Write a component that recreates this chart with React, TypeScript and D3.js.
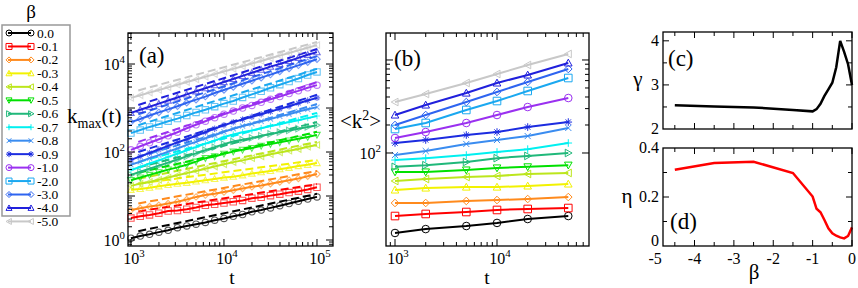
import React from "react";
import * as d3 from "d3";

const BETA_LABELS = ["0.0", "-0.1", "-0.2", "-0.3", "-0.4", "-0.5", "-0.6", "-0.7", "-0.8", "-0.9", "-1.0", "-2.0", "-3.0", "-4.0", "-5.0"];
const COLORS = ["#000000", "#ff0000", "#ff8a1c", "#f2f200", "#bce61c", "#00e000", "#20b87a", "#00f0f0", "#3a8cf0", "#1c2ce0", "#9a30f0", "#1aa8f0", "#2e64f0", "#2020dc", "#c8c8c8"];
const SHAPES = ["circle", "square", "diamond", "triUp", "triLeft", "triDown", "triRight", "plus", "cross", "star", "circle", "square", "diamond", "triUp", "triLeft"];

// panel (a): k_max(t)
const T_A = [1000, 1259, 1585, 1995, 2512, 3162, 3981, 5012, 6310, 7943, 10000, 12589, 15849, 19953, 25119, 31623, 39811, 50119, 63096, 79433, 100000];
const KMAX_00 = [1.10, 1.23, 1.35, 1.51, 1.66, 1.91, 2.09, 2.29, 2.51, 2.82, 3.09, 3.47, 3.80, 4.37, 4.79, 5.37, 6.03, 6.76, 7.59, 8.51, 9.55];
const KMAX_01 = [3.16, 3.47, 3.72, 4.07, 4.57, 4.68, 5.01, 5.50, 6.17, 6.46, 6.92, 7.41, 7.94, 8.91, 9.33, 10.2, 11.0, 12.0, 12.9, 14.1, 15.8];
const KMAX_02 = [4.79, 5.25, 5.75, 6.17, 6.76, 7.41, 8.32, 9.55, 10.5, 11.2, 12.3, 13.5, 14.8, 16.2, 17.4, 19.1, 20.9, 22.9, 25.1, 28.2, 31.6];
const KMAX_03 = [13.8, 14.5, 15.5, 16.6, 17.8, 19.1, 20.0, 21.4, 22.9, 24.5, 26.3, 27.5, 29.5, 32.4, 34.7, 37.2, 40.7, 43.7, 47.9, 51.3, 56.2];
const KMAX_04 = [17.0, 19.1, 20.9, 23.4, 26.3, 29.5, 33.1, 37.2, 41.7, 46.8, 52.5, 58.9, 64.6, 72.4, 79.4, 89.1, 97.7, 107, 117, 132, 145];
const KMAX_05 = [22.9, 26.3, 30.2, 34.7, 39.8, 44.7, 51.3, 60.3, 72.4, 79.4, 91.2, 102, 112, 123, 138, 151, 166, 182, 200, 219, 245];
const KMAX_06 = [30.2, 35.5, 41.7, 49.0, 57.5, 67.6, 79.4, 93.3, 110, 129, 151, 174, 191, 209, 234, 257, 282, 309, 339, 372, 407];
const KMAX_07 = [38.9, 45.7, 55.0, 64.6, 77.6, 91.2, 110, 129, 155, 182, 219, 251, 282, 309, 347, 389, 427, 479, 525, 589, 661];
const KMAX_08 = [51.3, 60.3, 72.4, 85.1, 102, 120, 145, 170, 204, 240, 288, 339, 389, 437, 501, 562, 646, 724, 832, 933, 1047];
const KMAX_09 = [66.1, 79.4, 95.5, 115, 138, 166, 195, 234, 282, 339, 407, 479, 550, 631, 724, 832, 955, 1096, 1288, 1479, 1698];
const KMAX_10 = [112, 135, 162, 195, 234, 282, 347, 417, 501, 603, 724, 851, 1000, 1148, 1349, 1585, 1820, 2138, 2455, 2884, 3311];
const KMAX_20 = [269, 316, 372, 427, 501, 575, 676, 794, 912, 1072, 1259, 1445, 1738, 2042, 2399, 2884, 3388, 3981, 4677, 5623, 6607];
const KMAX_30 = [479, 562, 676, 794, 933, 1096, 1318, 1549, 1820, 2188, 2570, 3020, 3548, 4169, 4898, 5754, 6761, 7943, 9333, 10965, 12882];
const KMAX_40 = [776, 912, 1072, 1259, 1479, 1738, 2042, 2399, 2818, 3311, 3890, 4571, 5370, 6310, 7413, 8710, 10000, 11749, 13804, 16218, 18621];
const KMAX_50 = [1698, 1950, 2239, 2570, 2951, 3388, 3890, 4467, 5129, 5888, 6761, 7762, 8913, 10233, 11749, 13490, 15488, 17783, 20417, 23442, 26915];
const SERIES_A = [KMAX_00, KMAX_01, KMAX_02, KMAX_03, KMAX_04, KMAX_05, KMAX_06, KMAX_07, KMAX_08, KMAX_09, KMAX_10, KMAX_20, KMAX_30, KMAX_40, KMAX_50];

// dashed power-law fits
const DASH_T = [1200, 100000];
const DASH_START = [1.585, 4.47, 6.76, 19.1, 24.5, 33.9, 44.7, 58.9, 77.6, 100, 170, 407, 724, 1175, 2512];
const DASH_END = [11.2, 18.6, 37.2, 66.1, 170, 288, 479, 776, 1230, 1995, 3890, 7762, 15136, 21878, 31623];

// panel (b): <k^2>
const T_B = [1000, 2000, 5000, 10000, 20000, 50000];
const K2_00 = [13.8, 15.2, 16.4, 17.7, 19.5, 21.0];
const K2_01 = [21.0, 22.1, 23.2, 24.4, 25.0, 25.6];
const K2_02 = [29.0, 29.0, 30.5, 31.2, 32.0, 33.6];
const K2_03 = [40.0, 42.0, 43.0, 43.0, 44.2, 46.4];
const K2_04 = [50.0, 52.5, 55.2, 56.6, 59.5, 61.0];
const K2_05 = [62.5, 62.5, 65.6, 69.0, 71.0, 74.0];
const K2_06 = [71.0, 74.0, 80.0, 88.0, 93.0, 100];
const K2_07 = [84.0, 88.0, 95.0, 102.5, 110, 128];
const K2_08 = [95.0, 105, 125, 138, 152, 186];
const K2_09 = [128, 138, 156, 168, 190, 215];
const K2_10 = [145, 168, 210, 256, 312, 390];
const K2_20 = [181, 210, 290, 362, 464, 640];
const K2_30 = [200, 256, 353, 453, 580, 800];
const K2_40 = [256, 328, 441, 566, 690, 929];
const K2_50 = [353, 431, 566, 707, 883, 1161];
const SERIES_B = [K2_00, K2_01, K2_02, K2_03, K2_04, K2_05, K2_06, K2_07, K2_08, K2_09, K2_10, K2_20, K2_30, K2_40, K2_50];

// panels (c), (d)
const BETA_CD = [-4.5, -3.5, -2.5, -1.5, -1.0, -0.9, -0.8, -0.7, -0.6, -0.5, -0.4, -0.3, -0.2, -0.1, 0.0];
const GAMMA = [2.54, 2.51, 2.49, 2.43, 2.40, 2.45, 2.57, 2.75, 2.90, 3.05, 3.40, 4.00, 3.75, 3.47, 3.00];
const ETA = [0.311, 0.339, 0.344, 0.298, 0.202, 0.152, 0.138, 0.106, 0.072, 0.052, 0.042, 0.035, 0.031, 0.041, 0.076];
const BETA_TICKS = [-5, -4, -3, -2, -1, 0];

const FONT = "Liberation Serif, DejaVu Serif, Times New Roman, serif";
const TS = { fontFamily: FONT } as React.CSSProperties;

function markerPath(shape: string, r: number): string {
  switch (shape) {
    case "square": return `M${-r},${-r}H${r}V${r}H${-r}Z`;
    case "diamond": return `M0,${-r}L${r},0L0,${r}L${-r},0Z`;
    case "triUp": return `M0,${-r}L${r},${r * 0.8}L${-r},${r * 0.8}Z`;
    case "triDown": return `M0,${r}L${r},${-r * 0.8}L${-r},${-r * 0.8}Z`;
    case "triLeft": return `M${-r},0L${r * 0.8},${-r}L${r * 0.8},${r}Z`;
    case "triRight": return `M${r},0L${-r * 0.8},${-r}L${-r * 0.8},${r}Z`;
    case "plus": return `M${-r},0H${r}M0,${-r}V${r}`;
    case "cross": { const q = r * 0.8; return `M${-q},${-q}L${q},${q}M${-q},${q}L${q},${-q}`; }
    case "star": { const q = r * 0.7; return `M${-r},0H${r}M0,${-r}V${r}M${-q},${-q}L${q},${q}M${-q},${q}L${q},${-q}`; }
    default: return `M${r},0A${r},${r} 0 1,1 ${-r},0A${r},${r} 0 1,1 ${r},0Z`;
  }
}

function logTicks(a: number, b: number) {
  const out: { v: number; major: boolean }[] = [];
  for (let e = Math.floor(Math.log10(a)); e <= Math.ceil(Math.log10(b)); e++) {
    for (let m = 1; m < 10; m++) {
      const v = m * Math.pow(10, e);
      if (v >= a && v <= b) out.push({ v, major: m === 1 });
    }
  }
  return out;
}

function Pow10({ x, y, e, anchor, size = 16 }: { x: number; y: number; e: number; anchor: string; size?: number }) {
  return (
    <text x={x} y={y} textAnchor={anchor as any} style={TS} fontSize={size}>
      10<tspan dy={-7} fontSize={size * 0.68}>{e}</tspan>
    </text>
  );
}

export default function App() {
  const xA = d3.scaleLog().domain([930, 148600]).range([128, 333]);
  const yA = d3.scaleLog().domain([0.731, 50700]).range([246, 33]);
  const lineA = d3.line<number>().x((_, i) => xA(T_A[i])).y((d) => yA(d));
  const dashLine = d3.line<[number, number]>().x((d) => xA(d[0])).y((d) => yA(d[1]));
  const [aL, aR] = xA.range();
  const [aB, aT] = yA.range();

  const xB = d3.scaleLog().domain([816, 79800]).range([386, 589]);
  const yB = d3.scaleLog().domain([10, 1950]).range([246, 33]);
  const lineB = d3.line<number>().x((_, i) => xB(T_B[i])).y((d) => yB(d));
  const [bL, bR] = xB.range();
  const [bB, bT] = yB.range();

  const xC = d3.scaleLinear().domain([-4.8, 0]).range([663, 852]);
  const yC = d3.scaleLinear().domain([2, 4.2]).range([129, 32]);
  const yD = d3.scaleLinear().domain([0, 0.4]).range([246, 148]);
  const lineC = d3.line<number>().x((_, i) => xC(BETA_CD[i])).y((d) => yC(d));
  const lineD = d3.line<number>().x((_, i) => xC(BETA_CD[i])).y((d) => yD(d));
  const [cL, cR] = xC.range();

  const xTicksCD = d3.range(-4.5, 0.01, 0.5);
  const tickStroke = { stroke: "#000", strokeWidth: 1 };

  const xTicksA = logTicks(930, 148600);
  const yTicksA = logTicks(0.731, 50700);
  const xTicksB = logTicks(816, 79800);
  const yTicksB = logTicks(100, 1950);

  return (
    <svg width={858} height={288} style={{ position: "absolute", left: 0, top: 0, background: "#fff", fontFamily: FONT }}>
      {/* legend */}
      <text x={31} y={18} textAnchor="middle" style={TS} fontSize={19}>β</text>
      <rect x={2} y={25} width={68} height={191} fill="#fff" stroke="#999" strokeWidth={1.5} />
      {BETA_LABELS.map((lab, i) => {
        const y = 33 + i * 13.46;
        return (
          <g key={lab}>
            <line x1={8} x2={31} y1={y} y2={y} stroke={COLORS[i]} strokeWidth={2} />
            <path d={markerPath(SHAPES[i], 3)} transform={`translate(9,${y})`} fill="none" stroke={COLORS[i]} strokeWidth={1} />
            <path d={markerPath(SHAPES[i], 3)} transform={`translate(31,${y})`} fill="none" stroke={COLORS[i]} strokeWidth={1} />
            <text x={37} y={y + 4.5} style={TS} fontSize={13.5}>{lab}</text>
          </g>
        );
      })}

      {/* panel (a) */}
      <g>
        {SERIES_A.map((s, i) => (
          <g key={i}>
            {s.map((v, j) => (
              <path key={j} d={markerPath(SHAPES[i], 3.2)} transform={`translate(${xA(T_A[j])},${yA(v)})`} fill="none" stroke={COLORS[i]} strokeWidth={1.1} opacity={0.65} />
            ))}
            <path d={lineA(s) || ""} fill="none" stroke={COLORS[i]} strokeWidth={2} />
            <path d={dashLine([[DASH_T[0], DASH_START[i]], [DASH_T[1], DASH_END[i]]]) || ""} fill="none" stroke={COLORS[i]} strokeWidth={2} strokeDasharray="8,4" />
          </g>
        ))}
        <rect x={aL} y={aT} width={aR - aL} height={aB - aT} fill="none" stroke="#000" strokeWidth={1.3} />
        {xTicksA.map((t, i) => {
          const x = xA(t.v); const len = t.major ? 7 : 4;
          return (
            <g key={i}>
              <line x1={x} x2={x} y1={aB} y2={aB - len} {...tickStroke} />
              <line x1={x} x2={x} y1={aT} y2={aT + len} {...tickStroke} />
            </g>
          );
        })}
        {yTicksA.map((t, i) => {
          const y = yA(t.v); const len = t.major ? 7 : 4;
          return (
            <g key={i}>
              <line x1={aL} x2={aL + len} y1={y} y2={y} {...tickStroke} />
              <line x1={aR} x2={aR - len} y1={y} y2={y} {...tickStroke} />
            </g>
          );
        })}
        {[3, 4, 5].map((e) => <Pow10 key={e} x={xA(Math.pow(10, e)) + 3} y={264} e={e} anchor="middle" />)}
        {[0, 2, 4].map((e) => <Pow10 key={e} x={125} y={yA(Math.pow(10, e)) + 6} e={e} anchor="end" />)}
        <text x={139} y={63} style={TS} fontSize={23}>(a)</text>
        <text x={67} y={123} style={TS} fontSize={21}>k<tspan dy={5} fontSize={14}>max</tspan><tspan dy={-5}>(t)</tspan></text>
        <text x={232} y={284} textAnchor="middle" style={TS} fontSize={19.5}>t</text>
      </g>

      {/* panel (b) */}
      <g>
        {SERIES_B.map((s, i) => (
          <g key={i}>
            <path d={lineB(s) || ""} fill="none" stroke={COLORS[i]} strokeWidth={2} />
            {s.map((v, j) => (
              <path key={j} d={markerPath(SHAPES[i], 3.8)} transform={`translate(${xB(T_B[j])},${yB(v)})`} fill="none" stroke={COLORS[i]} strokeWidth={1} />
            ))}
          </g>
        ))}
        <rect x={bL} y={bT} width={bR - bL} height={bB - bT} fill="none" stroke="#000" strokeWidth={1.3} />
        {xTicksB.map((t, i) => {
          const x = xB(t.v); const len = t.major ? 7 : 4;
          return (
            <g key={i}>
              <line x1={x} x2={x} y1={bB} y2={bB - len} {...tickStroke} />
              <line x1={x} x2={x} y1={bT} y2={bT + len} {...tickStroke} />
            </g>
          );
        })}
        {yTicksB.map((t, i) => {
          const y = yB(t.v); const len = t.major ? 7 : 4;
          return (
            <g key={i}>
              <line x1={bL} x2={bL + len} y1={y} y2={y} {...tickStroke} />
              <line x1={bR} x2={bR - len} y1={y} y2={y} {...tickStroke} />
            </g>
          );
        })}
        {[3, 4].map((e) => <Pow10 key={e} x={xB(Math.pow(10, e)) + 3} y={264} e={e} anchor="middle" />)}
        <Pow10 x={381} y={yB(100) + 6} e={2} anchor="end" />
        <text x={394} y={66} style={TS} fontSize={23}>(b)</text>
        <text x={340} y={128} style={TS} fontSize={21}>&lt;k<tspan dy={-8} fontSize={14}>2</tspan><tspan dy={8}>&gt;</tspan></text>
        <text x={487} y={284} textAnchor="middle" style={TS} fontSize={19.5}>t</text>
      </g>

      {/* panel (c) */}
      <g>
        <path d={lineC(GAMMA) || ""} fill="none" stroke="#000" strokeWidth={2.5} />
        <rect x={cL} y={yC(4.2)} width={cR - cL} height={yC(2) - yC(4.2)} fill="none" stroke="#000" strokeWidth={1.3} />
        {xTicksCD.map((v, i) => {
          const x = xC(v); const len = Number.isInteger(v) ? 6 : 4;
          return (
            <g key={i}>
              <line x1={x} x2={x} y1={yC(2)} y2={yC(2) - len} {...tickStroke} />
              <line x1={x} x2={x} y1={yC(4.2)} y2={yC(4.2) + len} {...tickStroke} />
            </g>
          );
        })}
        {[2.5, 3, 3.5, 4].map((v, i) => {
          const y = yC(v); const len = Number.isInteger(v) ? 6 : 4;
          return (
            <g key={i}>
              <line x1={cL} x2={cL + len} y1={y} y2={y} {...tickStroke} />
              <line x1={cR} x2={cR - len} y1={y} y2={y} {...tickStroke} />
            </g>
          );
        })}
        {[2, 3, 4].map((v) => (
          <text key={v} x={659} y={yC(v) + 5} textAnchor="end" style={TS} fontSize={16}>{v}</text>
        ))}
        <text x={668} y={66} style={TS} fontSize={23}>(c)</text>
        <text x={638} y={86} textAnchor="middle" style={TS} fontSize={21}>γ</text>
      </g>

      {/* panel (d) */}
      <g>
        <path d={lineD(ETA) || ""} fill="none" stroke="#ff0000" strokeWidth={2.5} />
        <rect x={cL} y={yD(0.4)} width={cR - cL} height={yD(0) - yD(0.4)} fill="none" stroke="#000" strokeWidth={1.3} />
        {xTicksCD.map((v, i) => {
          const x = xC(v); const len = Number.isInteger(v) ? 6 : 4;
          return (
            <g key={i}>
              <line x1={x} x2={x} y1={yD(0)} y2={yD(0) - len} {...tickStroke} />
              <line x1={x} x2={x} y1={yD(0.4)} y2={yD(0.4) + len} {...tickStroke} />
            </g>
          );
        })}
        {[0.1, 0.2, 0.3].map((v, i) => {
          const y = yD(v); const len = Math.abs(v - 0.2) < 1e-9 ? 6 : 4;
          return (
            <g key={i}>
              <line x1={cL} x2={cL + len} y1={y} y2={y} {...tickStroke} />
              <line x1={cR} x2={cR - len} y1={y} y2={y} {...tickStroke} />
            </g>
          );
        })}
        {[0, 0.2, 0.4].map((v) => (
          <text key={v} x={659} y={yD(v) + (v === 0 ? 0 : 5)} textAnchor="end" style={TS} fontSize={16}>{v === 0 ? "0" : String(v)}</text>
        ))}
        {BETA_TICKS.map((v) => (
          <text key={v} x={xC(v)} y={264} textAnchor="middle" style={TS} fontSize={16}>{v}</text>
        ))}
        <text x={670} y={229} style={TS} fontSize={23}>(d)</text>
        <text x={627} y={203} textAnchor="middle" style={TS} fontSize={21}>η</text>
        <text x={754} y={279} textAnchor="middle" style={TS} fontSize={21}>β</text>
      </g>
    </svg>
  );
}
